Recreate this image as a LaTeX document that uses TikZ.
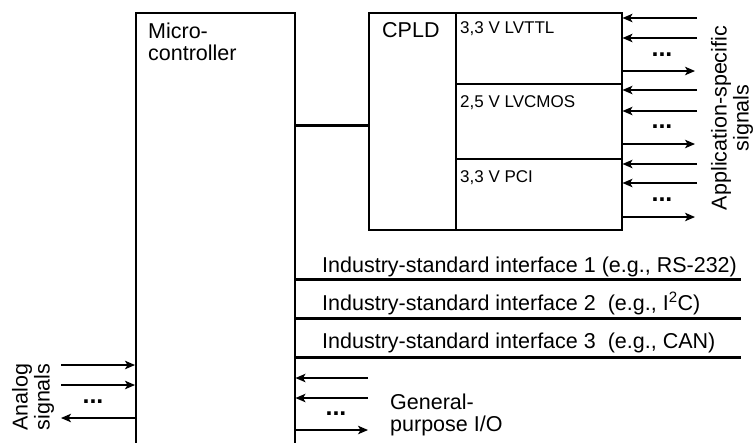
\documentclass[tikz,border=0pt]{standalone}
\usepackage{fontspec}
\setmainfont{Liberation Sans}
\usetikzlibrary{arrows.meta,positioning}
\tikzset{
  box/.style={draw, line width=1.5pt, inner sep=0pt, anchor=north west},
  sig/.style={line width=1.3pt, -{Stealth[length=10pt,width=8.5pt,inset=2.5pt]}},
  bus/.style={line width=3pt},
  big/.style={inner sep=0pt, font=\fontsize{21.5}{22}\selectfont},
  small/.style={inner sep=0pt, font=\fontsize{17}{18}\selectfont},
  more/.style={inner sep=0pt, font=\fontsize{25}{25}\selectfont\bfseries}
}
\begin{document}
\begin{tikzpicture}[x=1pt,y=-1pt]
    \useasboundingbox (0,0) rectangle (754,442);
    \clip (0,0) rectangle (754,442);
    % blocks
    \node[box, minimum width=159pt, minimum height=460pt] (M) at (135,12) {};
    \node[big, anchor=base west, align=left] (Mt) at (148,60) {Micro-\\controller};
    \node[box, minimum width=253pt, minimum height=217pt] (C) at (368,12) {};
    \node[big, anchor=base west] (Ct) at (382,37) {CPLD};
    \node[box, minimum width=166pt, minimum height=71pt] (S1) at (455,12) {};
    \node[box, minimum width=166pt, minimum height=75pt] (S2) at (455,83) {};
    \node[box, minimum width=166pt, minimum height=71pt] (S3) at (455,158) {};
    \node[small, anchor=base west] (S1t) at (460,33) {3,3 V LVTTL};
    \node[small, anchor=base west] (S2t) at (460,107) {2,5 V LVCMOS};
    \node[small, anchor=base west] (S3t) at (460,182) {3,3 V PCI};
    \coordinate (L) at (0,125);
    \draw[bus] (M.east |- L) -- (C.west |- L);
    % application-specific signals
    \coordinate (R1) at (697,18);
    \coordinate (R2) at (697,38);
    \coordinate (R3) at (695,71);
    \coordinate (R4) at (697,90);
    \coordinate (R5) at (697,111);
    \coordinate (R6) at (695,144);
    \coordinate (R7) at (697,164);
    \coordinate (R8) at (697,183);
    \coordinate (R9) at (695,217);
    \draw[sig] (R1) -- (C.east |- R1);
    \draw[sig] (R2) -- (C.east |- R2);
    \draw[sig] (C.east |- R3) -- (R3);
    \draw[sig] (R4) -- (C.east |- R4);
    \draw[sig] (R5) -- (C.east |- R5);
    \draw[sig] (C.east |- R6) -- (R6);
    \draw[sig] (R7) -- (C.east |- R7);
    \draw[sig] (R8) -- (C.east |- R8);
    \draw[sig] (C.east |- R9) -- (R9);
    \node[more] (Rd1) at (662,55) {...};
    \node[more] (Rd2) at (662,127) {...};
    \node[more] (Rd3) at (662,200) {...};
    \node[big, rotate=90, align=center] (Rt) at (732,118) {Application-specific\\signals};
    % interfaces
    \coordinate (I1) at (741,279);
    \coordinate (I2) at (741,318);
    \coordinate (I3) at (741,357);
    \draw[bus] (M.east |- I1) -- (I1);
    \draw[bus] (M.east |- I2) -- (I2);
    \draw[bus] (M.east |- I3) -- (I3);
    \node[big, anchor=base west] (I1t) at (322,272) {Industry-standard interface 1 (e.g., RS-232)};
    \node[big, anchor=base west] (I2t) at (322,310) {Industry-standard interface 2\ \ (e.g., I\textsuperscript{2}C)};
    \node[big, anchor=base west] (I3t) at (322,348) {Industry-standard interface 3\ \ (e.g., CAN)};
    % analog signals
    \coordinate (A1) at (61,365);
    \coordinate (A2) at (61,385);
    \coordinate (A3) at (61,418);
    \draw[sig] (A1) -- (M.west |- A1);
    \draw[sig] (A2) -- (M.west |- A2);
    \draw[sig] (M.west |- A3) -- (A3);
    \node[more] (Ad) at (93,402) {...};
    \node[big, rotate=90, align=center] (At) at (33,397) {Analog\\signals};
    % general-purpose I/O
    \coordinate (G1) at (368,378);
    \coordinate (G2) at (368,398);
    \coordinate (G3) at (368,430);
    \draw[sig] (G1) -- (M.east |- G1);
    \draw[sig] (G2) -- (M.east |- G2);
    \draw[sig] (M.east |- G3) -- (G3);
    \node[more] (Gd) at (336,414) {...};
    \node[big, anchor=base west, align=left] (Gt) at (390,431) {General-\\purpose I/O};
\end{tikzpicture}
\end{document}
